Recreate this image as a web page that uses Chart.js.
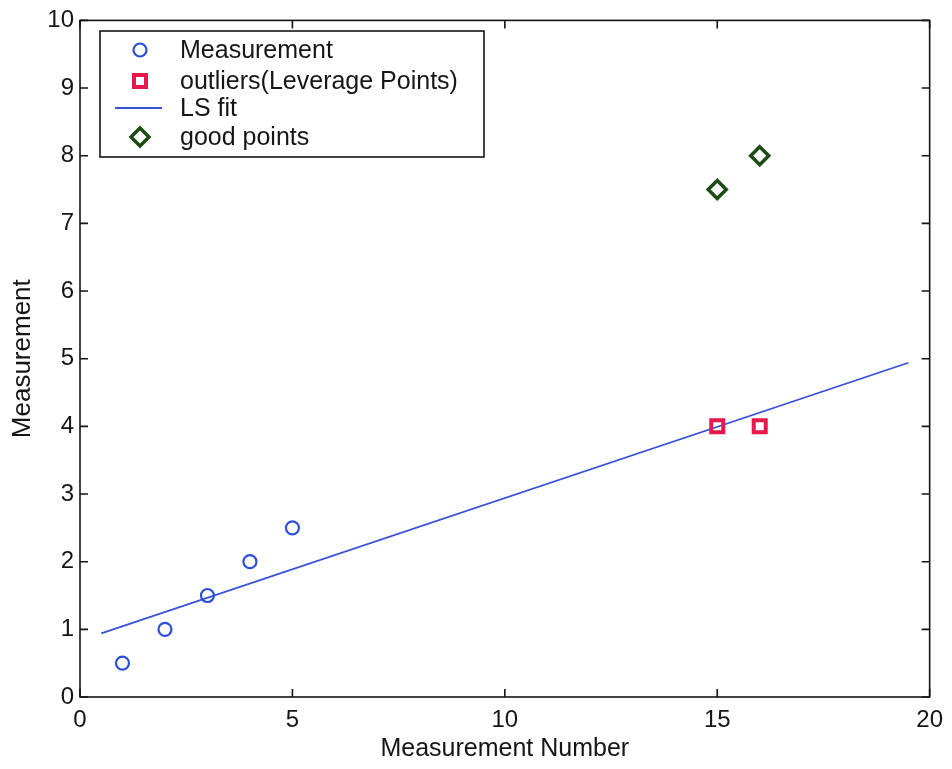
<!DOCTYPE html>
<html>
<head>
<meta charset="utf-8">
<script src="https://cdn.jsdelivr.net/npm/chart.js@4"></script>
<style>
  body { margin: 0; background: #fff; }
  canvas { display: block; }
</style>
</head>
<body>
<canvas id="fitChart" width="952" height="769"></canvas>
<script>
const FONT = '"Liberation Sans", Arial, sans-serif';

// measured values
const measX = [1, 2, 3, 4, 5];
const measY = [0.5, 1, 1.5, 2, 2.5];

// leverage points (outliers)
const outlierX = [15, 16];
const outlierY = [4, 4];

// good points
const goodX = [15, 16];
const goodY = [7.5, 8];

// least squares line endpoints
const fitX = [0.5, 19.5];
const fitY = [0.94, 4.94];

const xTicks = [0, 5, 10, 15, 20];
const yTicks = [0, 1, 2, 3, 4, 5, 6, 7, 8, 9, 10];

const legendLabels = ["Measurement", "outliers(Leverage Points)", "LS fit", "good points"];

function pts(xs, ys) {
  return xs.map((x, i) => ({ x: x, y: ys[i] }));
}

// box round the plot with inward ticks on every side
const framePlugin = {
  id: "frame",
  afterDraw(chart) {
    const { ctx, chartArea: a, scales } = chart;
    ctx.save();
    ctx.strokeStyle = "#151515";
    ctx.lineWidth = 1.6;
    ctx.strokeRect(a.left, a.top, a.right - a.left, a.bottom - a.top);
    ctx.beginPath();
    const len = 8;
    xTicks.forEach(v => {
      const px = scales.x.getPixelForValue(v);
      ctx.moveTo(px, a.bottom); ctx.lineTo(px, a.bottom - len);
      ctx.moveTo(px, a.top); ctx.lineTo(px, a.top + len);
    });
    yTicks.forEach(v => {
      const py = scales.y.getPixelForValue(v);
      ctx.moveTo(a.left, py); ctx.lineTo(a.left + len, py);
      ctx.moveTo(a.right, py); ctx.lineTo(a.right - len, py);
    });
    ctx.stroke();
    ctx.restore();
  }
};

// legend box inside the top left of the plot
const boxLegend = {
  id: "boxLegend",
  afterDraw(chart) {
    const ctx = chart.ctx;
    const x0 = 100, y0 = 31, w = 384, h = 126;
    ctx.save();
    ctx.fillStyle = "#fff";
    ctx.fillRect(x0, y0, w, h);
    ctx.strokeStyle = "#151515";
    ctx.lineWidth = 1.6;
    ctx.strokeRect(x0, y0, w, h);

    const rows = [50, 81, 108, 137];
    const symX = 140;
    chart.data.datasets.forEach((ds, i) => {
      const y = rows[i];
      ctx.strokeStyle = ds.borderColor;
      ctx.lineWidth = ds.borderWidth;
      if (ds.showLine) {
        ctx.beginPath();
        ctx.moveTo(115, y);
        ctx.lineTo(162, y);
        ctx.stroke();
      } else {
        ctx.fillStyle = "rgba(0,0,0,0)";
        Chart.helpers.drawPoint(ctx, {
          pointStyle: ds.pointStyle,
          radius: ds.pointRadius,
          borderWidth: ds.borderWidth,
          rotation: 0
        }, symX, y);
      }
      ctx.fillStyle = "#161616";
      ctx.font = "25px " + FONT;
      ctx.textBaseline = "middle";
      ctx.textAlign = "left";
      ctx.fillText(legendLabels[i], 180, y + 1);
    });
    ctx.restore();
  }
};

new Chart(document.getElementById("fitChart").getContext("2d"), {
  type: "scatter",
  data: {
    datasets: [
      {
        label: legendLabels[0],
        data: pts(measX, measY),
        pointStyle: "circle",
        pointRadius: 6.5,
        borderWidth: 2.2,
        borderColor: "#2a4fd8",
        backgroundColor: "transparent"
      },
      {
        label: legendLabels[1],
        data: pts(outlierX, outlierY),
        pointStyle: "rect",
        pointRadius: 8.5,
        borderWidth: 4,
        borderColor: "#e8184c",
        backgroundColor: "transparent"
      },
      {
        label: legendLabels[2],
        data: pts(fitX, fitY),
        showLine: true,
        pointRadius: 0,
        borderWidth: 1.8,
        borderColor: "#3552d8",
        backgroundColor: "transparent"
      },
      {
        label: legendLabels[3],
        data: pts(goodX, goodY),
        pointStyle: "rectRot",
        pointRadius: 9,
        borderWidth: 3.5,
        borderColor: "#1c4b14",
        backgroundColor: "transparent"
      }
    ]
  },
  options: {
    responsive: false,
    animation: false,
    layout: { padding: { left: 0, top: 17, right: 20, bottom: 0 } },
    plugins: {
      legend: { display: false },
      tooltip: { enabled: false }
    },
    scales: {
      x: {
        type: "linear",
        min: 0,
        max: 20,
        afterBuildTicks: s => { s.ticks = xTicks.map(v => ({ value: v })); },
        afterFit: s => { s.height = 72; },
        grid: { display: false, drawTicks: false },
        border: { display: false },
        ticks: { color: "#151515", font: { family: FONT, size: 24 }, padding: 9, maxRotation: 0 },
        title: {
          display: true,
          text: "Measurement Number",
          color: "#151515",
          font: { family: FONT, size: 25 },
          padding: { top: 0, bottom: 5 }
        }
      },
      y: {
        type: "linear",
        min: 0,
        max: 10,
        afterBuildTicks: s => { s.ticks = yTicks.map(v => ({ value: v })); },
        afterFit: s => { s.width = 80; },
        grid: { display: false, drawTicks: false },
        border: { display: false },
        ticks: { color: "#151515", font: { family: FONT, size: 24 }, padding: 6 },
        title: {
          display: true,
          text: "Measurement",
          color: "#151515",
          font: { family: FONT, size: 26 },
          padding: { top: 7, bottom: 0 }
        }
      }
    }
  },
  plugins: [framePlugin, boxLegend]
});
</script>
</body>
</html>
